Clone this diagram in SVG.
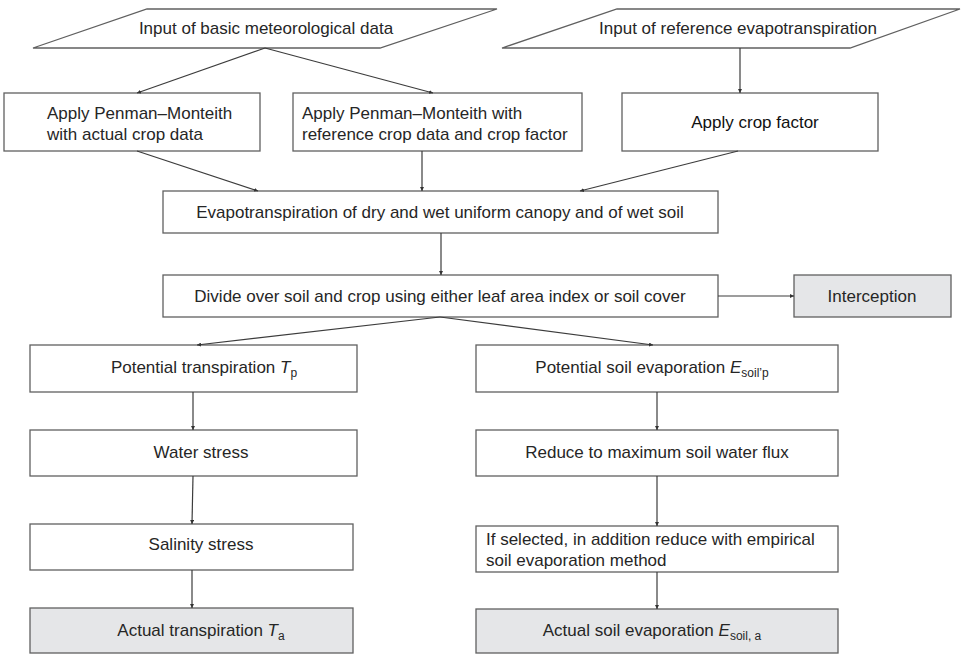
<svg xmlns="http://www.w3.org/2000/svg" width="961" height="654" viewBox="0 0 961 654">
  <defs>
    <marker id="tip" viewBox="0 0 6 6" refX="6" refY="3" markerWidth="4" markerHeight="4" orient="auto" markerUnits="userSpaceOnUse">
      <path d="M0,0 L6,3 L0,6 Z" fill="#333"/>
    </marker>
  </defs>
  <style>
    .box { fill: #fff; stroke: #606060; stroke-width: 1.3; }
    .end { fill: #e5e6e8; stroke: #606060; stroke-width: 1.3; }
    .lbl { font-family: "Liberation Sans", Arial, sans-serif; font-size: 17px; fill: #262626; }
    .mid { text-anchor: middle; }
    .sub { font-size: 12px; }
    .var { font-style: italic; }
    .edge { fill: none; stroke: #3c3c3c; stroke-width: 1.2; marker-end: url(#tip); }
  </style>
  <rect width="961" height="654" fill="#fff"/>

  <!-- inputs -->
  <g id="in-met">
    <polygon class="box" points="147,9 497,9 380,48 33,48"/>
    <text class="lbl mid" x="266" y="34">Input of basic meteorological data</text>
  </g>
  <g id="in-ref">
    <polygon class="box" points="617,9 960,9 850,48 502,48"/>
    <text class="lbl mid" x="738" y="34">Input of reference evapotranspiration</text>
  </g>

  <!-- evapotranspiration methods -->
  <g id="pm-actual">
    <rect class="box" x="4" y="93" width="256" height="58"/>
    <text class="lbl" x="47" y="119">Apply Penman–Monteith</text>
    <text class="lbl" x="47" y="140">with actual crop data</text>
  </g>
  <g id="pm-ref">
    <rect class="box" x="293" y="93" width="289" height="58"/>
    <text class="lbl" x="302" y="119">Apply Penman–Monteith with</text>
    <text class="lbl" x="302" y="140">reference crop data and crop factor</text>
  </g>
  <g id="crop-factor">
    <rect class="box" x="622" y="93" width="256" height="58"/>
    <text class="lbl mid" x="755" y="128" fill="#111" style="fill:#111">Apply crop factor</text>
  </g>

  <g id="et-canopy">
    <rect class="box" x="163" y="191" width="555" height="42"/>
    <text class="lbl mid" x="440" y="218">Evapotranspiration of dry and wet uniform canopy and of wet soil</text>
  </g>
  <g id="divide">
    <rect class="box" x="163" y="275" width="555" height="42"/>
    <text class="lbl mid" x="440" y="302">Divide over soil and crop using either leaf area index or soil cover</text>
  </g>
  <g id="interception">
    <rect class="end" x="794" y="275" width="157" height="42"/>
    <text class="lbl mid" x="872" y="302">Interception</text>
  </g>

  <!-- crop branch -->
  <g id="tp">
    <rect class="box" x="30" y="345" width="327" height="47"/>
    <text class="lbl mid" x="204" y="373">Potential transpiration <tspan class="var">T</tspan><tspan class="sub" dy="4">p</tspan></text>
  </g>
  <g id="water-stress">
    <rect class="box" x="30" y="430" width="327" height="46"/>
    <text class="lbl mid" x="201" y="458">Water stress</text>
  </g>
  <g id="salinity-stress">
    <rect class="box" x="30" y="524" width="323" height="46"/>
    <text class="lbl mid" x="201" y="550">Salinity stress</text>
  </g>
  <g id="ta">
    <rect class="end" x="30" y="608" width="323" height="45"/>
    <text class="lbl mid" x="201" y="636">Actual transpiration <tspan class="var">T</tspan><tspan class="sub" dy="4">a</tspan></text>
  </g>

  <!-- soil branch -->
  <g id="ep">
    <rect class="box" x="476" y="345" width="362" height="47"/>
    <text class="lbl mid" x="652" y="373">Potential soil evaporation <tspan class="var">E</tspan><tspan class="sub" dy="4">soil’p</tspan></text>
  </g>
  <g id="max-flux">
    <rect class="box" x="476" y="430" width="362" height="46"/>
    <text class="lbl mid" x="657" y="458">Reduce to maximum soil water flux</text>
  </g>
  <g id="empirical">
    <rect class="box" x="476" y="526" width="362" height="46"/>
    <text class="lbl" x="486" y="545">If selected, in addition reduce with empirical</text>
    <text class="lbl" x="486" y="566">soil evaporation method</text>
  </g>
  <g id="ea">
    <rect class="end" x="476" y="609" width="362" height="44"/>
    <text class="lbl mid" x="652" y="636">Actual soil evaporation <tspan class="var">E</tspan><tspan class="sub" dy="4">soil, a</tspan></text>
  </g>

  <!-- connectors -->
  <g id="connectors">
    <path class="edge" d="M265,48 L137,93"/>
    <path class="edge" d="M265,48 L433,93"/>
    <path class="edge" d="M740,48 L740,93"/>
    <path class="edge" d="M137,151 L258,191"/>
    <path class="edge" d="M422,151 L422,191"/>
    <path class="edge" d="M738,151 L580,191"/>
    <path class="edge" d="M441,233 L441,275"/>
    <path class="edge" d="M718,296 L794,296"/>
    <path class="edge" d="M440,317 L197,345"/>
    <path class="edge" d="M440,317 L653,345"/>
    <path class="edge" d="M193,392 L193,430"/>
    <path class="edge" d="M193,476 L192,524"/>
    <path class="edge" d="M192,570 L192,608"/>
    <path class="edge" d="M657,392 L657,430"/>
    <path class="edge" d="M657,476 L657,526"/>
    <path class="edge" d="M657,572 L657,609"/>
  </g>
</svg>
